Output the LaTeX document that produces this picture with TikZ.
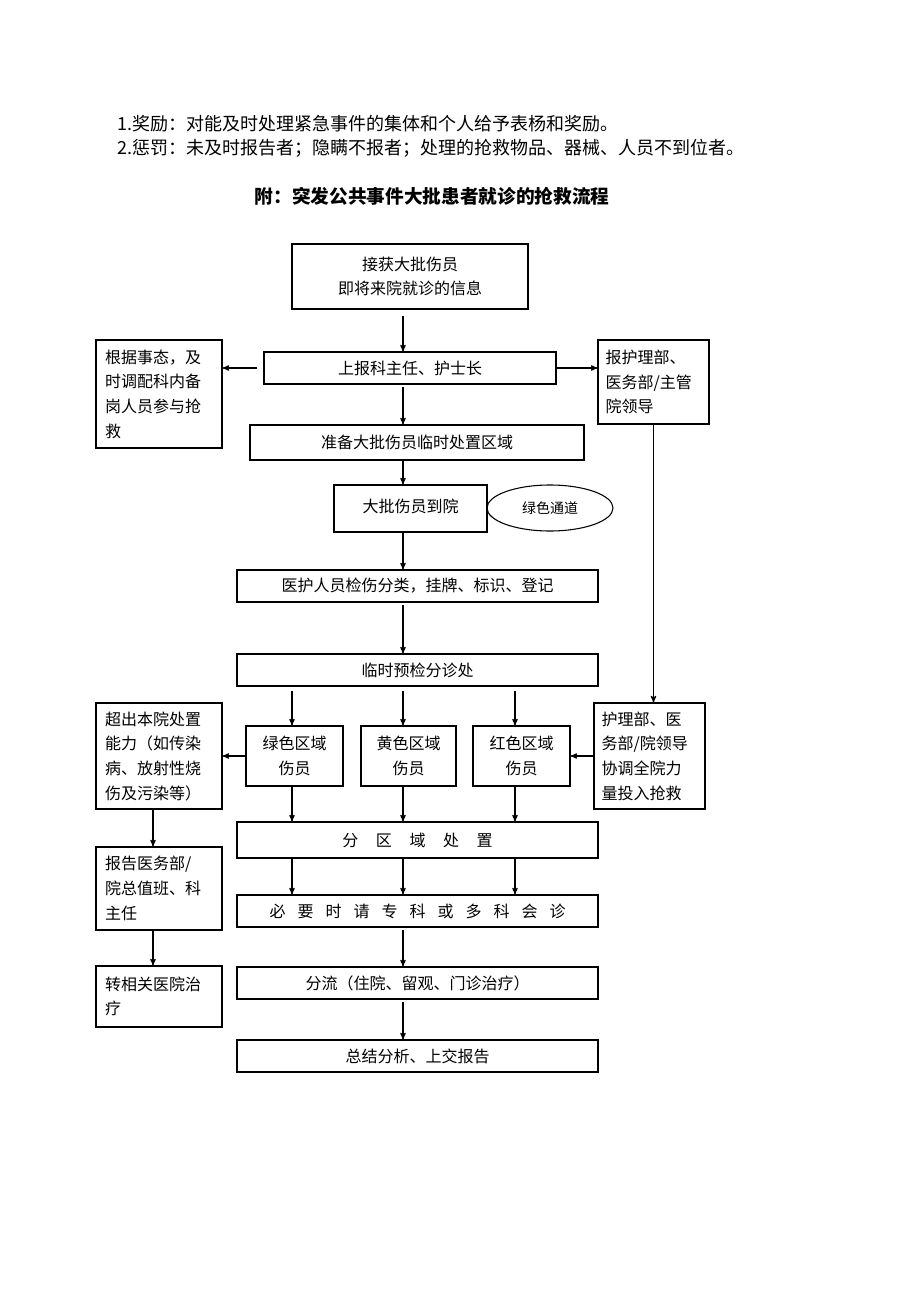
\documentclass[tikz,border=0pt]{standalone}
\usepackage{fontspec}
\setmainfont{Noto Sans CJK SC}
\usepackage{tikz}
\usetikzlibrary{arrows,shapes.geometric}

\begin{document}
\begin{tikzpicture}[->,>=stealth',line width=0.8pt,x=0.75pt,y=-0.75pt]
  \tikzstyle{every node}=[font=\fontsize{12}{18.5}\selectfont]
  \tikzstyle{box}=[draw,inner sep=0pt,align=center]
  \tikzstyle{sidebox}=[draw,inner sep=0pt,align=left,text width=81pt,minimum width=94.5pt]
  \useasboundingbox (0,0) rectangle (920,1302);

  % header lines
  \node[anchor=west,font=\fontsize{13.5}{18}\selectfont] (rule1) at (113,124)
       {1.奖励：对能及时处理紧急事件的集体和个人给予表杨和奖励。};
  \node[anchor=west,font=\fontsize{13.5}{18}\selectfont] (rule2) at (113,148)
       {2.惩罚：未及时报告者；隐瞒不报者；处理的抢救物品、器械、人员不到位者。};
  \node[font=\fontsize{14}{18}\selectfont\bfseries] (title) at (432,196)
       {附：突发公共事件大批患者就诊的抢救流程};

  % main column
  \node[box,minimum width=177pt,minimum height=48.75pt] (info) at (410,276.5)
       {接获大批伤员\\即将来院就诊的信息};
  \node[box,minimum width=219pt,minimum height=24pt] (report) at (410,368)
       {上报科主任、护士长};
  \node[box,minimum width=250.5pt,minimum height=26.25pt] (prepare) at (417,442.5)
       {准备大批伤员临时处置区域};
  \node[box,minimum width=114.75pt,minimum height=35.25pt] (arrive) at (410.5,508.5)
       {\raisebox{4pt}{大批伤员到院}};
  \node[draw,ellipse,inner sep=0pt,minimum width=94.5pt,minimum height=34.5pt,
        font=\fontsize{10.5}{12}\selectfont] (channel) at (550,508) {绿色通道};
  \node[box,minimum width=270.75pt,minimum height=24pt] (sort) at (417.5,586)
       {医护人员检伤分类，挂牌、标识、登记};
  \node[box,minimum width=270.75pt,minimum height=24pt] (triage) at (417.5,670)
       {临时预检分诊处};

  % zones
  \node[box,minimum width=72.75pt,minimum height=45pt] (greenz) at (294.5,756)
       {绿色区域\\伤员};
  \node[box,minimum width=71.25pt,minimum height=45pt] (yellowz) at (408.5,756)
       {黄色区域\\伤员};
  \node[box,minimum width=72.75pt,minimum height=45pt] (redz) at (521.5,756)
       {红色区域\\伤员};

  \node[box,minimum width=270.75pt,minimum height=27pt] (zone) at (417.5,840)
       {分\hspace{1.1em}区\hspace{1.1em}域\hspace{1.1em}处\hspace{1.1em}置};
  \node[box,minimum width=270.75pt,minimum height=24pt] (consult) at (417.5,911)
       {必\hspace{0.75em}要\hspace{0.75em}时\hspace{0.75em}请\hspace{0.75em}专\hspace{0.75em}科\hspace{0.75em}或\hspace{0.75em}多\hspace{0.75em}科\hspace{0.75em}会\hspace{0.75em}诊};
  \node[box,minimum width=270.75pt,minimum height=24pt] (divert) at (417.5,983)
       {分流（住院、留观、门诊治疗）};
  \node[box,minimum width=270.75pt,minimum height=24pt] (summary) at (417.5,1056)
       {总结分析、上交报告};

  % side boxes
  \node[sidebox,minimum height=81pt] (staff) at (159,394)
       {根据事态，及\\时调配科内备\\岗人员参与抢\\救};
  \node[sidebox,text width=72pt,minimum width=83.25pt,minimum height=63pt] (leader) at (653.5,382)
       {报护理部、\\医务部/主管\\院领导};
  \node[sidebox,text width=72pt,minimum width=83.25pt,minimum height=79.5pt] (coord) at (649.5,756)
       {护理部、医\\务部/院领导\\协调全院力\\量投入抢救};
  \node[sidebox,minimum height=79.5pt] (beyond) at (159,756)
       {超出本院处置\\能力（如传染\\病、放射性烧\\伤及污染等）};
  \node[sidebox,minimum height=62.25pt] (notify) at (159,888.5)
       {报告医务部/\\院总值班、科\\主任};
  \node[sidebox,minimum height=45.75pt] (transfer) at (159,996.5)
       {转相关医院治\\疗};

  \coordinate (spine) at (403,0);
  \coordinate (colG) at (292,0);
  \coordinate (colR) at (515,0);
  \coordinate (leftcol) at (153,0);

  \path (info.south -| spine) edge[shorten <=5pt] (report.north -| spine)
        (report.west) edge[shorten <=4.5pt] (report.west -| staff.east)
        (report.east) edge (report.east -| leader.west)
        (report.south -| spine) edge[shorten <=1.5pt] (prepare.north -| spine)
        (prepare.south -| spine) edge (arrive.north -| spine)
        (arrive.south -| spine) edge (sort.north -| spine)
        (sort.south -| spine) edge[shorten <=1.5pt] (triage.north -| spine)
        (leader.south) edge (leader.south |- coord.north)
        (triage.south -| colG) edge[shorten <=3pt] (greenz.north -| colG)
        (triage.south -| spine) edge[shorten <=3pt] (yellowz.north -| spine)
        (triage.south -| colR) edge[shorten <=3pt] (redz.north -| colR)
        (coord.west) edge (redz.east)
        (greenz.west) edge (beyond.east)
        (greenz.south -| colG) edge (zone.north -| colG)
        (yellowz.south -| spine) edge (zone.north -| spine)
        (redz.south -| colR) edge (zone.north -| colR)
        (zone.south -| colG) edge (consult.north -| colG)
        (zone.south -| spine) edge (consult.north -| spine)
        (zone.south -| colR) edge (consult.north -| colR)
        (consult.south -| spine) edge[shorten <=2pt] (divert.north -| spine)
        (divert.south -| spine) edge[shorten <=2pt] (summary.north -| spine)
        (beyond.south -| leftcol) edge (notify.north -| leftcol)
        (notify.south -| leftcol) edge (transfer.north -| leftcol);
\end{tikzpicture}
\end{document}
